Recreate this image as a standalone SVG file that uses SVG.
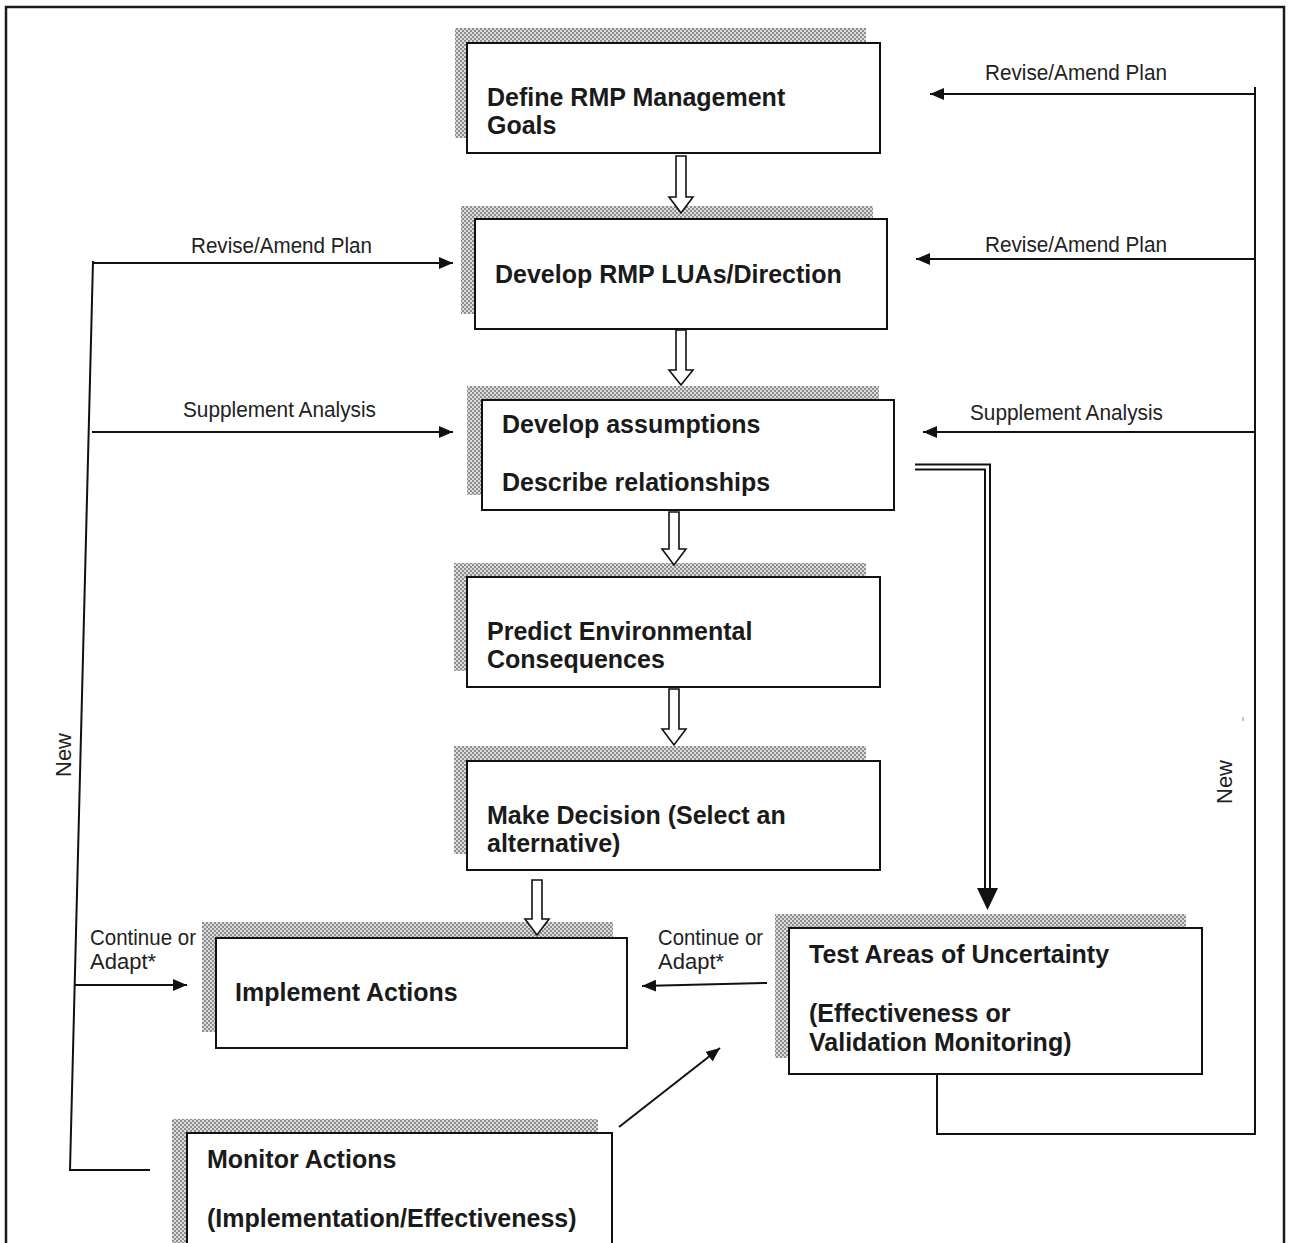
<svg xmlns="http://www.w3.org/2000/svg" width="1289" height="1243" viewBox="0 0 1289 1243">
<style>
.box{fill:#fff;stroke:#111;stroke-width:2}
.shd{fill:url(#chk)}
.bt{font-family:"Liberation Sans",Arial,sans-serif;font-weight:bold;font-size:25px;fill:#1a1a1a}
.lbl{font-family:"Liberation Sans Narrow","Liberation Sans",Arial,sans-serif;font-size:22px;fill:#222}
.ln{fill:none;stroke:#111;stroke-width:2}
.blk{fill:#fff;stroke:#111;stroke-width:1.6}
</style>
<defs>
<pattern id="chk" width="4" height="4" patternUnits="userSpaceOnUse">
<rect width="4" height="4" fill="#dcdcdc"/>
<rect width="2" height="2" fill="#8e8e8e"/>
<rect x="2" y="2" width="2" height="2" fill="#8e8e8e"/>
</pattern>
<marker id="ah" viewBox="0 0 14 12" refX="14" refY="6" markerWidth="14" markerHeight="12" markerUnits="userSpaceOnUse" orient="auto">
<path d="M0,0 L14,6 L0,12 z" fill="#111"/>
</marker>
</defs>
<rect width="1289" height="1243" fill="#fff"/>
<rect x="6" y="7" width="1278" height="1270" fill="none" stroke="#1a1a1a" stroke-width="2.5"/>

<g id="n1">
<rect class="shd" x="455" y="28" width="411" height="110"/>
<rect class="box" x="467" y="43" width="413" height="110"/>
<text class="bt" x="487" y="106">Define RMP Management</text>
<text class="bt" x="487" y="134">Goals</text>
</g>
<g id="n2">
<rect class="shd" x="461" y="206" width="412" height="108"/>
<rect class="box" x="475" y="219" width="412" height="110"/>
<text class="bt" x="495" y="283">Develop RMP LUAs/Direction</text>
</g>
<g id="n3">
<rect class="shd" x="467" y="386" width="412" height="109"/>
<rect class="box" x="482" y="400" width="412" height="110"/>
<text class="bt" x="502" y="433">Develop assumptions</text>
<text class="bt" x="502" y="491">Describe relationships</text>
</g>
<g id="n4">
<rect class="shd" x="454" y="563" width="412" height="108"/>
<rect class="box" x="467" y="577" width="413" height="110"/>
<text class="bt" x="487" y="640">Predict Environmental</text>
<text class="bt" x="487" y="668">Consequences</text>
</g>
<g id="n5">
<rect class="shd" x="454" y="746" width="412" height="108"/>
<rect class="box" x="467" y="761" width="413" height="109"/>
<text class="bt" x="487" y="824">Make Decision (Select an</text>
<text class="bt" x="487" y="852">alternative)</text>
</g>
<g id="n6">
<rect class="shd" x="202" y="922" width="411" height="110"/>
<rect class="box" x="216" y="938" width="411" height="110"/>
<text class="bt" x="235" y="1001">Implement Actions</text>
</g>
<g id="n7">
<rect class="shd" x="775" y="914" width="411" height="144"/>
<rect class="box" x="789" y="928" width="413" height="146"/>
<text class="bt" x="809" y="963">Test Areas of Uncertainty</text>
<text class="bt" x="809" y="1022">(Effectiveness or</text>
<text class="bt" x="809" y="1051">Validation Monitoring)</text>
</g>
<g id="n8">
<rect class="shd" x="172" y="1119" width="426" height="130"/>
<rect class="box" x="187" y="1133" width="425" height="130"/>
<text class="bt" x="207" y="1168">Monitor Actions</text>
<text class="bt" x="207" y="1227">(Implementation/Effectiveness)</text>
</g>

<g id="connectors">
<polygon class="blk" points="676,156 686,156 686,197 693,197 681,213 669,197 676,197"/>
<polygon class="blk" points="676,330 686,330 686,370 693,370 681,385 669,370 676,370"/>
<polygon class="blk" points="669,512 679,512 679,549 686,549 674,565 662,549 669,549"/>
<polygon class="blk" points="669,689 679,689 679,729 686,729 674,745 662,729 669,729"/>
<polygon class="blk" points="532,880 542,880 542,919 549,919 537,935 525,919 532,919"/>

<polyline class="ln" stroke-width="2.5" points="915,464.5 990,464.5 990,892"/>
<polyline class="ln" stroke-width="2.5" points="915,469.5 985,469.5 985,892"/>
<polygon points="977,888 998,888 987.5,910" fill="#111"/>

<line class="ln" x1="1255" y1="87" x2="1255" y2="1135"/>
<line class="ln" x1="1255" y1="94" x2="930" y2="94" marker-end="url(#ah)"/>
<line class="ln" x1="1255" y1="259" x2="916" y2="259" marker-end="url(#ah)"/>
<line class="ln" x1="1255" y1="432" x2="923" y2="432" marker-end="url(#ah)"/>
<polyline class="ln" points="937,1074 937,1134 1255,1134"/>

<polyline class="ln" points="93,261 70,1170 150,1170"/>
<line class="ln" x1="93" y1="263" x2="453" y2="263" marker-end="url(#ah)"/>
<line class="ln" x1="92" y1="432" x2="453" y2="432" marker-end="url(#ah)"/>
<line class="ln" x1="75" y1="985" x2="187" y2="985" marker-end="url(#ah)"/>

<line class="ln" x1="767" y1="983" x2="642" y2="986" marker-end="url(#ah)"/>
<line class="ln" x1="619" y1="1127" x2="720" y2="1048" marker-end="url(#ah)"/>
<line x1="1243" y1="717" x2="1243" y2="721" stroke="#888" stroke-width="1"/>
</g>

<g id="labels">
<text class="lbl" x="985" y="80" textLength="182" lengthAdjust="spacingAndGlyphs">Revise/Amend Plan</text>
<text class="lbl" x="985" y="252" textLength="182" lengthAdjust="spacingAndGlyphs">Revise/Amend Plan</text>
<text class="lbl" x="970" y="420" textLength="193" lengthAdjust="spacingAndGlyphs">Supplement Analysis</text>
<text class="lbl" x="191" y="253" textLength="181" lengthAdjust="spacingAndGlyphs">Revise/Amend Plan</text>
<text class="lbl" x="183" y="417" textLength="193" lengthAdjust="spacingAndGlyphs">Supplement Analysis</text>
<text class="lbl" x="90" y="945" textLength="106" lengthAdjust="spacingAndGlyphs">Continue or</text>
<text class="lbl" x="90" y="969">Adapt*</text>
<text class="lbl" x="658" y="945" textLength="105" lengthAdjust="spacingAndGlyphs">Continue or</text>
<text class="lbl" x="658" y="969">Adapt*</text>
<text class="lbl" font-size="25" text-anchor="middle" transform="translate(71,755) rotate(-90)">New</text>
<text class="lbl" font-size="25" text-anchor="middle" transform="translate(1232,782) rotate(-90)">New</text>
</g>
</svg>
